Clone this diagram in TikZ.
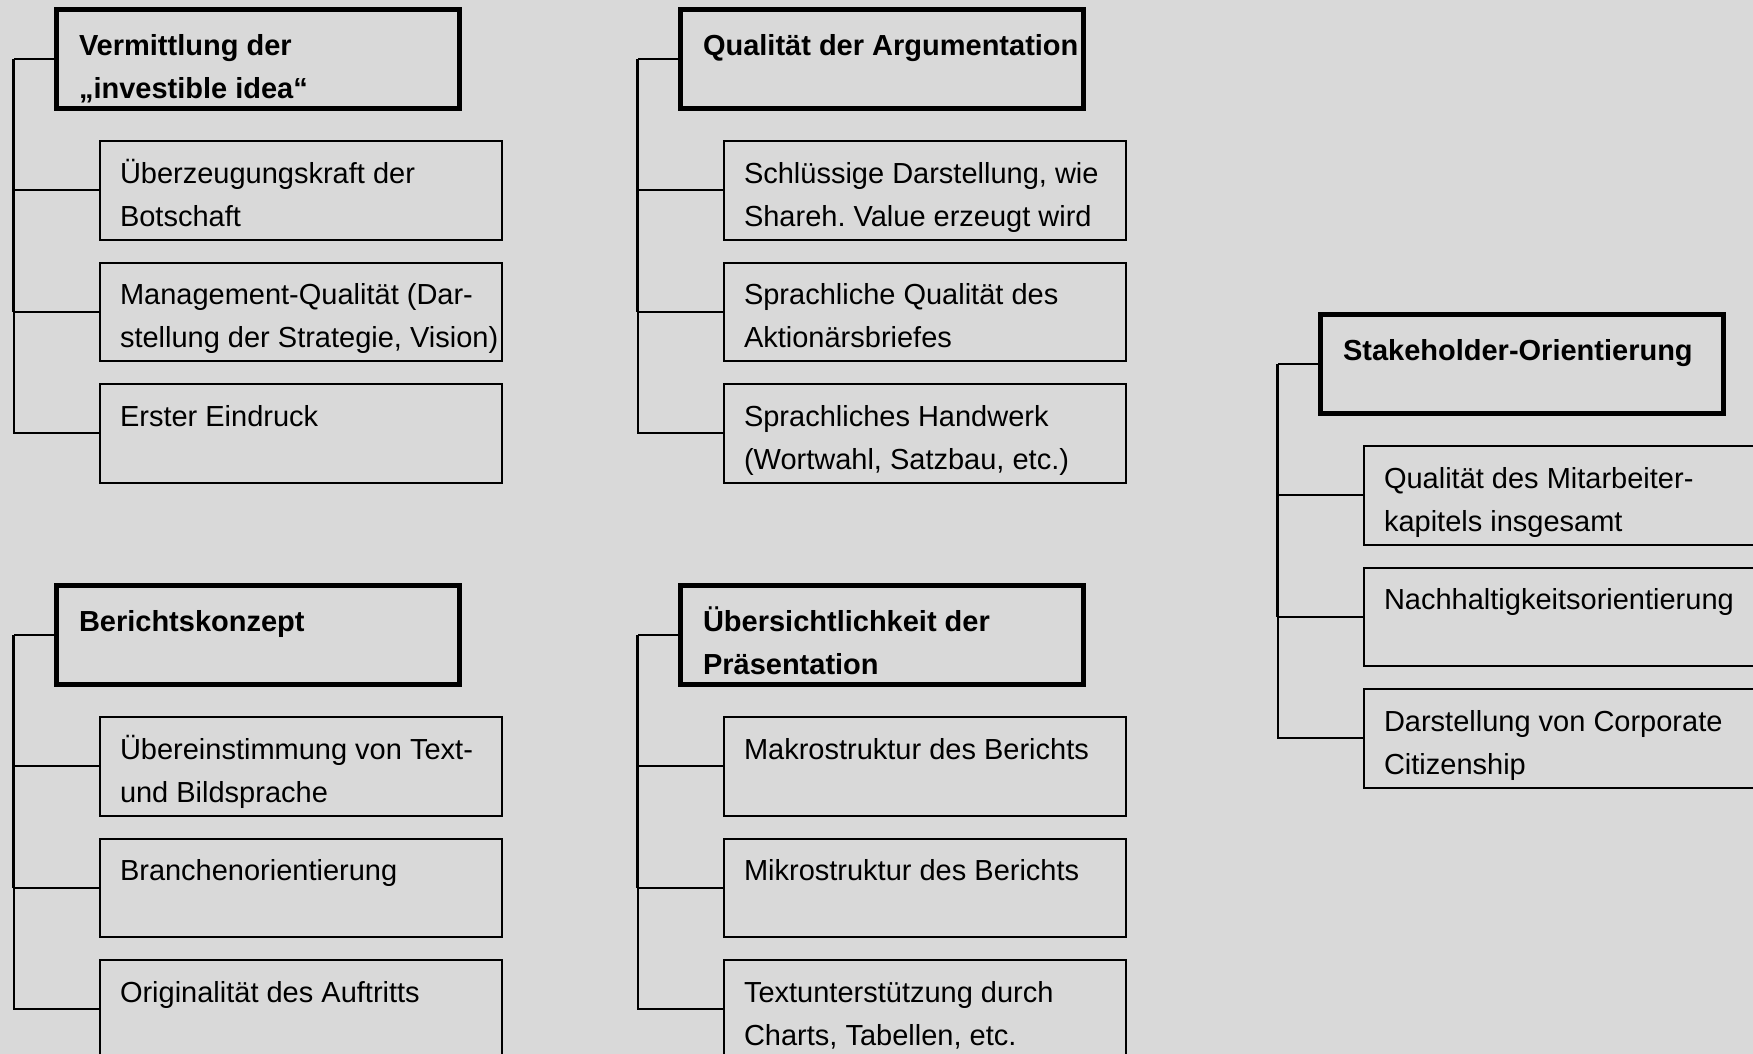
\documentclass[tikz,border=0pt]{standalone}
\usepackage{fontspec}
\setmainfont{Liberation Sans}
\frenchspacing
\definecolor{bgray}{RGB}{217,217,217}
\tikzset{
  hdrbox/.style={draw=black, line width=5pt, minimum width=403pt, minimum height=99pt, inner sep=0pt, outer sep=0pt, anchor=north west},
  kidbox/.style={draw=black, line width=2pt, minimum width=402pt, minimum height=98.5pt, inner sep=0pt, outer sep=0pt, anchor=north west},
  hdrtxt/.style={inner sep=0pt, outer sep=0pt, anchor=base west, font=\fontsize{29}{43}\selectfont\bfseries},
  kidtxt/.style={inner sep=0pt, outer sep=0pt, anchor=base west, font=\fontsize{29}{43}\selectfont},
  conn/.style={line width=2pt},
  spine/.style={line width=2.5pt},
}
\newcommand\twoln[2]{\vtop{\hbox{#1}\hbox{#2}}}
\newcommand\grp[7]{%
  \begin{scope}[shift={(#2,#3)}]
    \node[hdrbox] (#1h) at (56.5,9.5) {};
    \node[hdrtxt] (#1ht) at (79,55.5) {#4};
    \node[kidbox] (#1a) at (100.3,141) {};
    \node[kidbox] (#1b) at (100.3,262.6) {};
    \node[kidbox] (#1c) at (100.3,384.2) {};
    \node[kidtxt] (#1at) at (120,183.3) {#5};
    \node[kidtxt] (#1bt) at (120,304.9) {#6};
    \node[kidtxt] (#1ct) at (120,426.5) {#7};
    \coordinate (#1s) at (13.5,59);
  \end{scope}
  \draw[conn] (#1h.west) -- (#1s);
  \draw[spine] (#1s) -- (#1s |- #1b.west);
  \draw[conn] (#1s |- #1b.west) -- (#1s |- #1c.west) -- (#1c.west);
  \draw[conn] (#1s |- #1a.west) -- (#1a.west);
  \draw[conn] (#1s |- #1b.west) -- (#1b.west);
}
\begin{document}
\begin{tikzpicture}[x=1pt,y=-1pt]
  \useasboundingbox (0,0) rectangle (1753,1054);
  \fill[bgray] (0,0) rectangle (1753,1054);
  \clip (0,0) rectangle (1753,1054);
  \grp{ga}{0}{0}{\twoln{Vermittlung der}{„investible idea“}}
    {\twoln{Überzeugungskraft der}{Botschaft}}
    {\twoln{Management-Qualität (Dar-}{stellung der Strategie, Vision)}}
    {Erster Eindruck}
  \grp{gb}{624}{0}{Qualität der Argumentation}
    {\twoln{Schlüssige Darstellung, wie}{Shareh. Value erzeugt wird}}
    {\twoln{Sprachliche Qualität des}{Aktionärsbriefes}}
    {\twoln{Sprachliches Handwerk}{(Wortwahl, Satzbau, etc.)}}
  \grp{gc}{1264}{305}{Stakeholder-Orientierung}
    {\twoln{Qualität des Mitarbeiter-}{kapitels insgesamt}}
    {Nachhaltigkeitsorientierung}
    {\twoln{Darstellung von Corporate}{Citizenship}}
  \grp{gd}{0}{576}{Berichtskonzept}
    {\twoln{Übereinstimmung von Text-}{und Bildsprache}}
    {Branchenorientierung}
    {Originalität des Auftritts}
  \grp{ge}{624}{576}{\twoln{Übersichtlichkeit der}{Präsentation}}
    {Makrostruktur des Berichts}
    {Mikrostruktur des Berichts}
    {\twoln{Textunterstützung durch}{Charts, Tabellen, etc.}}
\end{tikzpicture}
\end{document}
